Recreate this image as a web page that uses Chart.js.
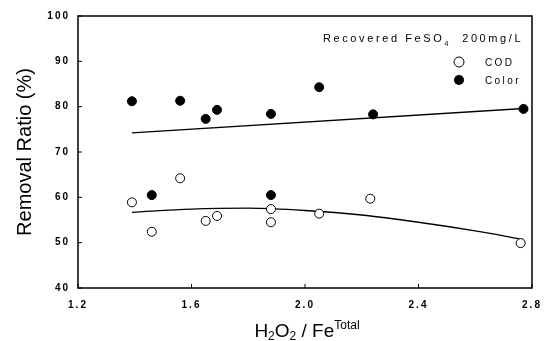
<!DOCTYPE html>
<html>
<head>
<meta charset="utf-8">
<script src="https://cdn.jsdelivr.net/npm/chart.js@4.4.1/dist/chart.umd.min.js"></script>
<style>
    body { margin: 0; background: #fff; }
    #wrap { width: 551px; height: 341px; }
</style>
</head>
<body>
<div id="wrap"><canvas id="removalChart" width="551" height="341"></canvas></div>
<script>
// 데이터
const codX   = [1.39, 1.46, 1.56, 1.65, 1.69, 1.88, 1.88, 2.05, 2.23, 2.76];
const codY   = [58.9, 52.4, 64.2, 54.8, 55.9, 57.4, 54.5, 56.4, 59.7, 49.9];
const colorX = [1.39, 1.46, 1.56, 1.65, 1.69, 1.88, 1.88, 2.05, 2.24, 2.77];
const colorY = [81.2, 60.5, 81.3, 77.3, 79.3, 78.4, 60.5, 84.3, 78.3, 79.5];

// 추세선
const colorFitX = [1.39, 2.77];
const colorFitY = [74.2, 79.6];
const codFitX = [1.39, 1.6, 1.8, 2.0, 2.2, 2.4, 2.6, 2.77];
const codFitY = [56.7, 57.4, 57.6, 57.1, 56.1, 54.5, 52.6, 50.7];

// 축 눈금
const xTicks = [1.2, 1.6, 2.0, 2.4, 2.8];
const yTicks = [40, 50, 60, 70, 80, 90, 100];

const FONT = '"Liberation Sans", Arial, sans-serif';

function toPoints(xs, ys) {
    return xs.map((x, i) => ({ x: x, y: ys[i] }));
}

// 테두리, 안쪽 눈금, 축 제목, 범례
const decorPlugin = {
    id: 'decor',
    beforeDraw(chart) {
        // 눈금 글자 간격 (스캔 원본처럼 넓게)
        chart.ctx.letterSpacing = '2px';
    },
    afterDraw(chart) {
        const ctx = chart.ctx;
        const a = chart.chartArea;
        const xs = chart.scales.x;
        const ys = chart.scales.y;
        ctx.save();
        ctx.letterSpacing = '0px';

        // 박스
        ctx.strokeStyle = '#000';
        ctx.lineWidth = 1.5;
        ctx.strokeRect(a.left, a.top, a.right - a.left, a.bottom - a.top);

        // 안쪽 눈금
        ctx.lineWidth = 1;
        xTicks.forEach(v => {
            const px = xs.getPixelForValue(v);
            ctx.beginPath();
            ctx.moveTo(px, a.bottom);
            ctx.lineTo(px, a.bottom - 4);
            ctx.stroke();
        });
        yTicks.forEach(v => {
            const py = ys.getPixelForValue(v);
            ctx.beginPath();
            ctx.moveTo(a.left, py);
            ctx.lineTo(a.left + 4, py);
            ctx.stroke();
        });

        ctx.fillStyle = '#000';
        ctx.textBaseline = 'alphabetic';

        // y축 제목
        ctx.save();
        ctx.font = '20px ' + FONT;
        ctx.translate(31, (a.top + a.bottom) / 2);
        ctx.rotate(-Math.PI / 2);
        ctx.textAlign = 'center';
        ctx.fillText('Removal Ratio (%)', 0, 0);
        ctx.restore();

        // x축 제목: H2O2 / Fe^Total
        const parts = [
            { t: 'H', f: '19px', dy: 0 },
            { t: '2', f: '12px', dy: 3 },
            { t: 'O', f: '19px', dy: 0 },
            { t: '2', f: '12px', dy: 3 },
            { t: ' / Fe', f: '19px', dy: 0 },
            { t: 'Total', f: '12px', dy: -8 }
        ];
        let total = 0;
        parts.forEach(p => {
            ctx.font = p.f + ' ' + FONT;
            p.w = ctx.measureText(p.t).width;
            total += p.w;
        });
        let cx = 307 - total / 2;
        ctx.textAlign = 'left';
        parts.forEach(p => {
            ctx.font = p.f + ' ' + FONT;
            ctx.fillText(p.t, cx, 337 + p.dy);
            cx += p.w;
        });

        // 주석 및 범례
        ctx.letterSpacing = '2.6px';
        ctx.font = '11px ' + FONT;
        let lx = 323;
        ctx.fillText('Recovered FeSO', lx, 42);
        lx += ctx.measureText('Recovered FeSO').width;
        ctx.font = '7px ' + FONT;
        ctx.fillText('4', lx, 46);
        lx += ctx.measureText('4').width;
        ctx.font = '11px ' + FONT;
        ctx.fillText('  200mg/L', lx, 42);

        ctx.letterSpacing = '2.4px';
        ctx.font = '10px ' + FONT;
        ctx.fillText('COD', 485, 66);
        ctx.fillText('Color', 485, 84);
        ctx.letterSpacing = '0px';

        ctx.lineWidth = 1;
        ctx.beginPath();
        ctx.arc(459, 62, 5, 0, Math.PI * 2);
        ctx.fillStyle = '#fff';
        ctx.fill();
        ctx.stroke();
        ctx.beginPath();
        ctx.arc(459, 80, 5, 0, Math.PI * 2);
        ctx.fillStyle = '#000';
        ctx.fill();

        ctx.restore();
        ctx.letterSpacing = '0px';
    }
};

function createChart() {
    const ctx = document.getElementById('removalChart').getContext('2d');
    return new Chart(ctx, {
        type: 'scatter',
        data: {
            datasets: [
                {
                    label: 'COD',
                    data: toPoints(codX, codY),
                    pointRadius: 4.5,
                    pointBackgroundColor: '#fff',
                    pointBorderColor: '#000',
                    pointBorderWidth: 1,
                    order: 1
                },
                {
                    label: 'Color',
                    data: toPoints(colorX, colorY),
                    pointRadius: 4.5,
                    pointBackgroundColor: '#000',
                    pointBorderColor: '#000',
                    pointBorderWidth: 1,
                    order: 1
                },
                {
                    label: 'Color fit',
                    data: toPoints(colorFitX, colorFitY),
                    showLine: true,
                    pointRadius: 0,
                    borderColor: '#000',
                    borderWidth: 1.3,
                    order: 2
                },
                {
                    label: 'COD fit',
                    data: toPoints(codFitX, codFitY),
                    showLine: true,
                    pointRadius: 0,
                    borderColor: '#000',
                    borderWidth: 1.3,
                    cubicInterpolationMode: 'monotone',
                    order: 2
                }
            ]
        },
        options: {
            responsive: false,
            animation: false,
            layout: { padding: { top: 16, right: 19, left: 0, bottom: 0 } },
            plugins: {
                legend: { display: false },
                tooltip: { enabled: false }
            },
            scales: {
                x: {
                    type: 'linear',
                    min: 1.2,
                    max: 2.8,
                    afterFit: s => { s.height = 53; },
                    afterBuildTicks: s => { s.ticks = xTicks.map(v => ({ value: v })); },
                    grid: { display: false, drawTicks: false },
                    border: { display: false },
                    ticks: {
                        padding: 11,
                        color: '#000',
                        font: { family: FONT, size: 10, weight: 'bold' },
                        callback: v => v.toFixed(1)
                    }
                },
                y: {
                    type: 'linear',
                    min: 40,
                    max: 100,
                    afterFit: s => { s.width = 78; },
                    afterBuildTicks: s => { s.ticks = yTicks.map(v => ({ value: v })); },
                    grid: { display: false, drawTicks: false },
                    border: { display: false },
                    ticks: {
                        padding: 8,
                        color: '#000',
                        font: { family: FONT, size: 10, weight: 'bold' },
                        callback: v => String(v)
                    }
                }
            }
        },
        plugins: [decorPlugin]
    });
}

createChart();
</script>
</body>
</html>
